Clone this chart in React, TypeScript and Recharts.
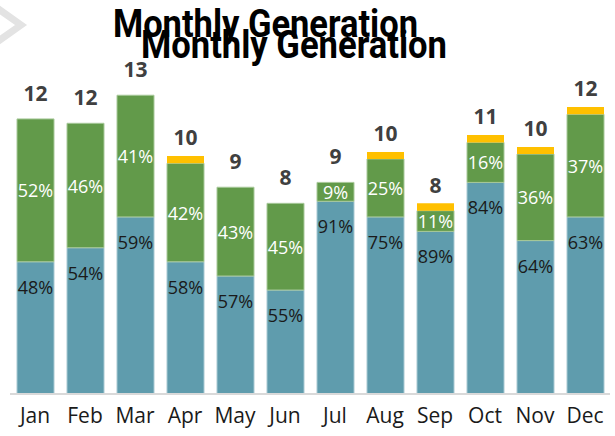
import { BarChart, Bar, XAxis, YAxis, LabelList } from 'recharts'

const months = ['Jan', 'Feb', 'Mar', 'Apr', 'May', 'Jun', 'Jul', 'Aug', 'Sep', 'Oct', 'Nov', 'Dec']
const solar = [5.75, 6.36, 7.7, 5.75, 5.13, 4.52, 8.38, 7.7, 7.07, 9.2, 6.67, 7.7]
const wind = [6.21, 5.41, 5.29, 4.28, 3.86, 3.77, 0.82, 2.52, 0.9, 1.74, 3.76, 4.46]
const other = [0, 0, 0, 0.32, 0, 0, 0, 0.3, 0.32, 0.32, 0.31, 0.32]
const solarPct = [48, 54, 59, 58, 57, 55, 91, 75, 89, 84, 64, 63]
const windPct = [52, 46, 41, 42, 43, 45, 9, 25, 11, 16, 36, 37]
const totals = [12, 12, 13, 10, 9, 8, 9, 10, 8, 11, 10, 12]

const data = months.map((month, i) => ({
  month,
  solar: solar[i],
  wind: wind[i],
  other: other[i],
  solarPct: solarPct[i],
  windPct: windPct[i],
  total: totals[i],
}))

const FONT = '"Open Sans", sans-serif'
const TITLE_FONT = 'Roboto, sans-serif'

function SolarLabel(props: any) {
  const { x, y, width, value } = props
  return (
    <text x={x + width / 2} y={y + 25} textAnchor="middle" dominantBaseline="central"
      fontFamily={FONT} fontSize={18} fill="#1a1a1a">
      {value}%
    </text>
  )
}

function WindLabel(props: any) {
  const { x, y, width, height, value } = props
  return (
    <text x={x + width / 2} y={y + height / 2} textAnchor="middle" dominantBaseline="central"
      fontFamily={FONT} fontSize={18} fill="#ffffff">
      {value}%
    </text>
  )
}

function TotalLabel(props: any) {
  const { x, y, width, value } = props
  return (
    <text x={x + width / 2} y={y - 26} textAnchor="middle" dominantBaseline="central"
      fontFamily={FONT} fontSize={21} fontWeight="bold" fill="#404040">
      {value}
    </text>
  )
}

export default function App() {
  return (
    <div style={{ position: 'absolute', left: 0, top: 0, width: 615, height: 436, background: '#fff' }}>
      <BarChart
        width={615}
        height={436}
        data={data}
        margin={{ top: 72, right: 5, bottom: 12, left: 10 }}
        barSize={37}
      >
        <XAxis
          dataKey="month"
          axisLine={{ stroke: '#d9d9d9', strokeWidth: 2 }}
          tickLine={false}
          tickMargin={8}
          height={30}
          interval={0}
          tick={{ fill: '#1a1a1a', fontSize: 21, fontFamily: FONT }}
        />
        <YAxis hide domain={[0, 14]} />
        <Bar dataKey="solar" stackId="a" fill="#5f9cad" stroke="#a9c9d2" strokeWidth={1} isAnimationActive={false}>
          <LabelList dataKey="solarPct" content={<SolarLabel />} />
        </Bar>
        <Bar dataKey="wind" stackId="a" fill="#629a4a" stroke="#a8c99a" strokeWidth={1} isAnimationActive={false}>
          <LabelList dataKey="windPct" content={<WindLabel />} />
          <LabelList dataKey="total" content={<TotalLabel />} />
        </Bar>
        <Bar dataKey="other" stackId="a" fill="#ffc000" isAnimationActive={false} />
      </BarChart>
      <svg width={615} height={436} style={{ position: 'absolute', left: 0, top: 0, pointerEvents: 'none' }}>
        <polyline points="-3,8 21,25 -3,42" fill="none" stroke="#e3e3e3" strokeWidth={7} />
        <text x={113} y={37} textLength={305} lengthAdjust="spacingAndGlyphs" fontFamily={TITLE_FONT}
          fontWeight="bold" fontSize={38} fill="#000">
          Monthly Generation
        </text>
        <text x={141} y={58} textLength={306} lengthAdjust="spacingAndGlyphs" fontFamily={TITLE_FONT}
          fontWeight="bold" fontSize={38} fill="#000">
          Monthly Generation
        </text>
      </svg>
    </div>
  )
}
